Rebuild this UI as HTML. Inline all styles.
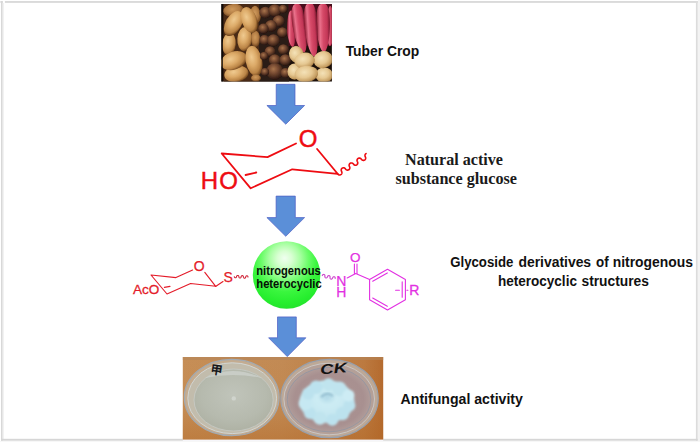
<!DOCTYPE html>
<html lang="en">
<head>
<meta charset="utf-8">
<title>Graphical abstract</title>
<style>
html,body{margin:0;padding:0;background:#fff;}
body{width:700px;height:442px;overflow:hidden;position:relative;font-family:"Liberation Sans",sans-serif;}
svg{position:absolute;left:0;top:0;display:block;}
.cal{font-family:"Liberation Sans",sans-serif;font-weight:bold;font-size:14px;fill:#111;}
.tnr{font-family:"Liberation Serif",serif;font-weight:bold;font-size:16px;fill:#1a1a1a;}
.chem{font-family:"Liberation Sans",sans-serif;}
</style>
</head>
<body>
<svg width="700" height="442" viewBox="0 0 700 442">
<defs>
<radialGradient id="ball" cx="0.48" cy="0.3" r="0.78" fx="0.47" fy="0.25">
<stop offset="0" stop-color="#f0fff0"/>
<stop offset="0.14" stop-color="#d8ffd2"/>
<stop offset="0.3" stop-color="#a6ffa0"/>
<stop offset="0.45" stop-color="#6afc68"/>
<stop offset="0.6" stop-color="#3af63e"/>
<stop offset="0.8" stop-color="#26ee2e"/>
<stop offset="1" stop-color="#22da2c"/>
</radialGradient>
</defs>
<rect x="0" y="0" width="700" height="442" fill="#ffffff"/>
<rect x="698" y="0" width="2" height="442" fill="#f3f3f3"/>
<rect x="0" y="441" width="700" height="1" fill="#f7f7f7"/>
<rect x="0" y="1" width="3" height="1.9" fill="#e6e6e6"/>
<rect x="4.9" y="1" width="692.9" height="1.9" fill="#dadada"/>
<rect x="1" y="1" width="1.7" height="439.8" fill="#d8d8d8"/>
<rect x="2.7" y="3" width="1.3" height="436" fill="#f2f2f2"/>
<rect x="695.9" y="1" width="1.8" height="439.8" fill="#dcdcdc"/>
<rect x="1" y="438.8" width="696.7" height="1.9" fill="#d6d6d6"/>

<defs>
<clipPath id="c1"><rect x="221.3" y="4" width="110.6" height="77.5"/></clipPath>
<filter id="b1" x="-5%" y="-5%" width="110%" height="110%"><feGaussianBlur stdDeviation="0.5"/></filter>
<radialGradient id="pt" cx="0.4" cy="0.36" r="0.66"><stop offset="0" stop-color="#efca90"/><stop offset="0.45" stop-color="#dcaa68"/><stop offset="0.8" stop-color="#ba8446"/><stop offset="1" stop-color="#70441c"/></radialGradient>
<radialGradient id="ptd" cx="0.45" cy="0.4" r="0.64"><stop offset="0" stop-color="#cf9a5c"/><stop offset="0.55" stop-color="#b27c44"/><stop offset="1" stop-color="#5c3414"/></radialGradient>
<radialGradient id="ptl" cx="0.42" cy="0.38" r="0.66"><stop offset="0" stop-color="#f4e2b8"/><stop offset="0.5" stop-color="#e6c892"/><stop offset="0.85" stop-color="#c49c60"/><stop offset="1" stop-color="#886030"/></radialGradient>
<radialGradient id="tr" cx="0.42" cy="0.36" r="0.64"><stop offset="0" stop-color="#a8744c"/><stop offset="0.45" stop-color="#744830"/><stop offset="1" stop-color="#2a1610"/></radialGradient>
<linearGradient id="sp" x1="0" x2="1" y1="0" y2="0"><stop offset="0" stop-color="#8a1a30"/><stop offset="0.27" stop-color="#ea728c"/><stop offset="0.5" stop-color="#d64a68"/><stop offset="0.8" stop-color="#c23656"/><stop offset="1" stop-color="#74162c"/></linearGradient>
</defs>
<g clip-path="url(#c1)">
<rect x="221" y="4" width="111" height="78" fill="#1c100a"/>
<g filter="url(#b1)">
<rect x="223.5" y="4" width="36" height="78" fill="#4a2a12"/>
<rect x="259" y="4" width="30" height="78" fill="#2a1a12"/>
<ellipse cx="233.5" cy="10.5" rx="10.3" ry="6.6" transform="rotate(-5 233.5 10.5)" fill="url(#ptd)" />
<ellipse cx="255.6" cy="14.6" rx="5.2" ry="8.8" transform="rotate(-8 255.6 14.6)" fill="url(#ptd)" />
<ellipse cx="255.5" cy="39" rx="4.6" ry="8.2" transform="rotate(0 255.5 39)" fill="url(#ptd)" />
<ellipse cx="229" cy="44" rx="6.8" ry="11.23" transform="rotate(5 229 44)" fill="url(#pt)" />
<ellipse cx="244.6" cy="39" rx="7.24" ry="12.1" transform="rotate(4 244.6 39)" fill="url(#pt)" />
<ellipse cx="233.5" cy="23.6" rx="7.99" ry="13.61" transform="rotate(30 233.5 23.6)" fill="url(#pt)" />
<ellipse cx="249.2" cy="20" rx="7.67" ry="13.39" transform="rotate(-20 249.2 20)" fill="url(#pt)" />
<ellipse cx="236.4" cy="73.8" rx="12.2" ry="8.1" transform="rotate(-10 236.4 73.8)" fill="url(#pt)" />
<ellipse cx="233.7" cy="60.6" rx="13.72" ry="8.86" transform="rotate(-20 233.7 60.6)" fill="url(#pt)" />
<ellipse cx="254" cy="61" rx="8.21" ry="15.34" transform="rotate(-11 254 61)" fill="url(#pt)" />
<ellipse cx="256" cy="78" rx="5" ry="3.6" transform="rotate(0 256 78)" fill="url(#ptd)" />
<ellipse cx="265.3" cy="12.5" rx="5.978000000000001" ry="5.782" transform="rotate(0 265.3 12.5)" fill="url(#tr)" />
<ellipse cx="274.8" cy="10.5" rx="6.465999999999999" ry="6.254" transform="rotate(0 274.8 10.5)" fill="url(#tr)" />
<ellipse cx="283" cy="9" rx="4.392" ry="4.248" transform="rotate(0 283 9)" fill="url(#tr)" />
<ellipse cx="278.6" cy="21" rx="5.978000000000001" ry="5.782" transform="rotate(0 278.6 21)" fill="url(#tr)" />
<ellipse cx="271" cy="25.8" rx="5.978000000000001" ry="5.782" transform="rotate(0 271 25.8)" fill="url(#tr)" />
<ellipse cx="263.4" cy="28.6" rx="5.2459999999999996" ry="5.074" transform="rotate(0 263.4 28.6)" fill="url(#tr)" />
<ellipse cx="282.4" cy="32.4" rx="5.368" ry="5.192" transform="rotate(0 282.4 32.4)" fill="url(#tr)" />
<ellipse cx="264.4" cy="40" rx="5.124" ry="4.9559999999999995" transform="rotate(0 264.4 40)" fill="url(#tr)" />
<ellipse cx="273.4" cy="40.5" rx="6.344" ry="6.136" transform="rotate(0 273.4 40.5)" fill="url(#tr)" />
<ellipse cx="283.4" cy="49.5" rx="5.368" ry="5.192" transform="rotate(0 283.4 49.5)" fill="url(#tr)" />
<ellipse cx="270" cy="51.4" rx="5.368" ry="5.192" transform="rotate(0 270 51.4)" fill="url(#tr)" />
<ellipse cx="264" cy="56" rx="4.148" ry="4.012" transform="rotate(0 264 56)" fill="url(#tr)" />
<ellipse cx="274.8" cy="60" rx="5.978000000000001" ry="5.782" transform="rotate(0 274.8 60)" fill="url(#tr)" />
<ellipse cx="285.3" cy="60" rx="5.856" ry="5.664" transform="rotate(0 285.3 60)" fill="url(#tr)" />
<ellipse cx="274.8" cy="71.4" rx="8.54" ry="8.26" transform="rotate(0 274.8 71.4)" fill="url(#tr)" />
<ellipse cx="285.5" cy="73" rx="5.124" ry="4.9559999999999995" transform="rotate(0 285.5 73)" fill="url(#tr)" />
<ellipse cx="265" cy="72" rx="4.148" ry="4.012" transform="rotate(0 265 72)" fill="url(#tr)" />
<rect x="288.5" y="4" width="44" height="42" fill="#4a0e1a"/>
<path transform="rotate(0 291.25 28.75)" d="M291.25,10.5 C294,10.5 295.3,16.5 295.4,28.5 C295.4,33 296.1,46 292.6,47 C289.6,46 287.3,35 287.1,32.5 C286.9,18.5 288.5,10.5 291.25,10.5 Z" fill="url(#sp)"/>
<path transform="rotate(0 330.25 26.0)" d="M330.25,6 C332,6 333.3,12 333.4,24 C333.4,32 333.5,45 330,46 C327,45 327.3,34 327.1,28 C326.9,14 328.5,6 330.25,6 Z" fill="url(#sp)"/>
<path transform="rotate(-7 299.29999999999995 28.25)" d="M299.29999999999995,3.5 C304.4,3.5 305.7,9.5 305.79999999999995,21.5 C305.79999999999995,39 304.7,52 301.2,53 C298.2,52 293.0,41 292.8,25.5 C292.59999999999997,11.5 294.2,3.5 299.29999999999995,3.5 Z" fill="url(#sp)"/>
<path transform="rotate(-1 323.20000000000005 28.0)" d="M323.20000000000005,3.5 C328.6,3.5 329.90000000000003,9.5 330.0,21.5 C330.0,38.5 326.9,51.5 323.4,52.5 C320.4,51.5 316.6,40.5 316.40000000000003,25.5 C316.2,11.5 317.8,3.5 323.20000000000005,3.5 Z" fill="url(#sp)"/>
<path transform="rotate(-4 311.2 30.0)" d="M311.2,3 C316.2,3 317.5,9 317.59999999999997,21 C317.59999999999997,43 316.1,56 312.6,57 C309.6,56 305.0,45 304.8,25 C304.59999999999997,11 306.2,3 311.2,3 Z" fill="url(#sp)"/>
<ellipse cx="294.6" cy="71.6" rx="7.13" ry="8.1" transform="rotate(0 294.6 71.6)" fill="url(#ptl)" />
<ellipse cx="296.4" cy="54.4" rx="7.34" ry="8.42" transform="rotate(-15 296.4 54.4)" fill="url(#ptl)" />
<ellipse cx="324.2" cy="75" rx="8.86" ry="7.56" transform="rotate(0 324.2 75)" fill="url(#ptl)" />
<ellipse cx="323.2" cy="59.6" rx="9.83" ry="8.53" transform="rotate(-12 323.2 59.6)" fill="url(#ptl)" />
<ellipse cx="304.6" cy="60.6" rx="10.26" ry="7.99" transform="rotate(-8 304.6 60.6)" fill="url(#ptl)" />
<ellipse cx="306.3" cy="74" rx="11.66" ry="8.21" transform="rotate(-6 306.3 74)" fill="url(#ptl)" />
</g>
<rect x="221.3" y="4" width="1.6" height="78" fill="#0c0806" opacity="0.85"/>
</g>
<defs>
<clipPath id="c2"><rect x="182.8" y="357.1" width="200.4" height="82.4"/></clipPath>
<filter id="b2" x="-5%" y="-5%" width="110%" height="110%"><feGaussianBlur stdDeviation="0.6"/></filter>
<filter id="b3" x="-20%" y="-20%" width="140%" height="140%"><feGaussianBlur stdDeviation="1.1"/></filter>
<filter id="b4" x="-40%" y="-40%" width="180%" height="180%"><feGaussianBlur stdDeviation="1.1"/></filter>
<linearGradient id="wood" x1="0" x2="1" y1="0" y2="0"><stop offset="0" stop-color="#c68e56"/><stop offset="0.5" stop-color="#c28a54"/><stop offset="0.9" stop-color="#bc7a40"/><stop offset="1" stop-color="#b46a2e"/></linearGradient>
<linearGradient id="woodv" x1="0" x2="0" y1="0" y2="1"><stop offset="0" stop-color="#b06420" stop-opacity="0"/><stop offset="0.6" stop-color="#b06420" stop-opacity="0.05"/><stop offset="1" stop-color="#b06420" stop-opacity="0.4"/></linearGradient>
<radialGradient id="agar" cx="0.5" cy="0.42" r="0.62"><stop offset="0" stop-color="#c0c4ba"/><stop offset="0.65" stop-color="#b6baae"/><stop offset="1" stop-color="#adb0a2"/></radialGradient>
<radialGradient id="dishR" cx="0.5" cy="0.5" r="0.55"><stop offset="0" stop-color="#ac9492"/><stop offset="0.75" stop-color="#a89090"/><stop offset="1" stop-color="#b4a29e"/></radialGradient>
<radialGradient id="fung" cx="0.5" cy="0.4" r="0.58"><stop offset="0" stop-color="#b0d8e6"/><stop offset="0.3" stop-color="#cdecf4"/><stop offset="0.8" stop-color="#c4e6f0"/><stop offset="1" stop-color="#b8dce8"/></radialGradient>
</defs>
<rect x="182.8" y="438.5" width="200.4" height="2.5" fill="#f6f6fa"/>
<g clip-path="url(#c2)">
<rect x="182" y="357" width="202" height="83" fill="url(#wood)"/>
<rect x="182" y="357" width="202" height="3" fill="#b4865a" opacity="0.6"/>
<rect x="182" y="357" width="202" height="83" fill="url(#woodv)"/>
<g filter="url(#b2)">
<!-- left dish -->
<ellipse cx="231.7" cy="397.5" rx="47.4" ry="38.2" fill="#c4ac90" stroke="#a2aab2" stroke-width="1.2"/>
<ellipse cx="232.2" cy="398.2" rx="44.4" ry="35.4" fill="#c2bcac" stroke="#d2d6d4" stroke-width="1"/>
<ellipse cx="233.6" cy="400" rx="39.6" ry="31" fill="url(#agar)" stroke="#c8ccc6" stroke-width="0.8"/>
<path d="M205,378 Q232,364 262,378 Q232,372 205,378 Z" fill="#d0d4d0" opacity="0.7"/>
<circle cx="233.8" cy="398.4" r="2.2" fill="#d0d4cd"/>
<!-- right dish -->
<ellipse cx="329.5" cy="398.5" rx="48.7" ry="39.2" fill="#bda896" stroke="#98a0ac" stroke-width="1.2"/>
<ellipse cx="329.2" cy="399" rx="45.3" ry="35.8" fill="#b4a098" stroke="#cac6c4" stroke-width="1"/>
<ellipse cx="329" cy="399.6" rx="41.8" ry="32.2" fill="url(#dishR)" stroke="#8c94a4" stroke-width="0.7"/>
</g>
<g filter="url(#b3)">
<ellipse cx="327" cy="401.6" rx="27.5" ry="21.4" fill="url(#fung)"/>
<circle cx="349.4" cy="405.5" r="6.0" fill="#bce2ee"/>
<circle cx="342.4" cy="413.5" r="6.8" fill="#bce2ee"/>
<circle cx="332.3" cy="419.8" r="6.0" fill="#bce2ee"/>
<circle cx="319.9" cy="418.1" r="6.6" fill="#c0e4ee"/>
<circle cx="309.9" cy="413.1" r="6.0" fill="#bce2ee"/>
<circle cx="305.6" cy="403.4" r="7.0" fill="#c6e8f2"/>
<circle cx="308.2" cy="393.6" r="6.1" fill="#bce2ee"/>
<circle cx="316.2" cy="387.2" r="6.7" fill="#bce2ee"/>
<circle cx="328.6" cy="384.6" r="6.3" fill="#c0e4ee"/>
<circle cx="339.4" cy="388.9" r="7.3" fill="#c0e4ee"/>
<circle cx="348.5" cy="395.5" r="6.0" fill="#cdecf4"/>
</g>
<path d="M321,397 Q327,391 333,396" fill="none" stroke="#7aa8be" stroke-width="2" filter="url(#b4)" opacity="0.7"/>
<text x="210.6" y="374.4" font-family="'Liberation Sans','Noto Sans CJK SC',sans-serif" font-size="12" font-weight="bold" fill="#16181c" transform="rotate(8 216 369)">甲</text>
<text x="320" y="373.4" font-family="'Liberation Sans',sans-serif" font-size="14" font-style="italic" font-weight="bold" fill="#121212" textLength="27" lengthAdjust="spacingAndGlyphs" transform="rotate(-5 333 368)">CK</text>
</g>
<path d="M276.2,84.3 H295 V105.5 H304.6 L285.75,124.2 L266.9,105.5 H276.2 Z" fill="#5b8fd8" stroke="#4c5cc4" stroke-width="0.7" stroke-linejoin="miter"/>
<path d="M276.1,196.1 H295.3 V217.6 H304.6 L285.75,236.3 L266.9,217.6 H276.1 Z" fill="#5b8fd8" stroke="#4c5cc4" stroke-width="0.7" stroke-linejoin="miter"/>
<path d="M277.5,316.9 H296.3 V337.8 H305.9 L287.25,356.6 L268.6,337.8 H277.5 Z" fill="#5b8fd8" stroke="#4c5cc4" stroke-width="0.7" stroke-linejoin="miter"/>
<g fill="none" stroke="#ee0c12" stroke-width="1.8" stroke-linecap="round" stroke-linejoin="round">
<path d="M296,143.5 L267.5,157.1 L221.7,153.5 L250.7,188.3 L292.3,169.3 L337.6,173.8 L317.1,149"/>
<path d="M245.6,175 L256.3,172.5"/>
<path d="M337.60,173.80 L337.88,174.18 L338.23,174.49 L338.63,174.73 L339.07,174.89 L339.52,174.96 L339.98,174.94 L340.42,174.83 L340.83,174.63 L341.20,174.36 L341.50,174.01 L341.72,173.61 L341.87,173.18 L341.92,172.71 L341.89,172.25 L341.77,171.80 L341.56,171.37 L341.35,170.95 L341.23,170.50 L341.20,170.03 L341.25,169.57 L341.40,169.13 L341.62,168.73 L341.92,168.39 L342.29,168.11 L342.70,167.92 L343.14,167.81 L343.60,167.78 L344.05,167.86 L344.49,168.01 L344.89,168.26 L345.24,168.57 L345.52,168.95 L345.80,169.32 L346.15,169.64 L346.55,169.88 L346.99,170.04 L347.44,170.11 L347.90,170.09 L348.34,169.98 L348.75,169.78 L349.12,169.50 L349.42,169.16 L349.64,168.76 L349.79,168.32 L349.84,167.86 L349.81,167.40 L349.69,166.94 L349.48,166.52 L349.27,166.10 L349.15,165.64 L349.12,165.18 L349.17,164.72 L349.32,164.28 L349.54,163.88 L349.84,163.54 L350.21,163.26 L350.62,163.06 L351.06,162.95 L351.52,162.93 L351.97,163.00 L352.41,163.16 L352.81,163.40 L353.16,163.72 L353.44,164.09 L353.72,164.47 L354.07,164.78 L354.47,165.03 L354.91,165.18 L355.36,165.26 L355.82,165.23 L356.26,165.12 L356.67,164.93 L357.04,164.65 L357.34,164.31 L357.56,163.91 L357.71,163.47 L357.76,163.01 L357.73,162.54 L357.61,162.09 L357.40,161.67 L357.19,161.24 L357.07,160.79 L357.04,160.33 L357.09,159.86 L357.24,159.43 L357.46,159.03 L357.76,158.68 L358.13,158.41 L358.54,158.21 L358.98,158.10 L359.44,158.08 L359.89,158.15 L360.33,158.31 L360.73,158.55 L361.08,158.86 L361.36,159.24 L361.64,159.62 L361.99,159.93 L362.39,160.17 L362.83,160.33 L363.28,160.40 L363.74,160.38 L364.18,160.27 L364.59,160.07 L364.96,159.80 L365.26,159.45 L365.48,159.05 L365.63,158.62 L365.68,158.15 L365.65,157.69 L365.53,157.24 L365.32,156.81 L365.11,156.39 L364.99,155.94 L364.96,155.47 L365.01,155.01 L365.16,154.57 L365.38,154.17 L365.68,153.83 L366.05,153.55" stroke-width="1.6"/>
</g>
<text class="chem" x="200.7" y="189.3" font-size="24" fill="#ee0c12" stroke="#ee0c12" stroke-width="0.45">H<tspan dx="1.2">O</tspan></text>
<text class="chem" x="308.2" y="147.2" font-size="24" fill="#ee0c12" stroke="#ee0c12" stroke-width="0.45" text-anchor="middle">O</text>
<g fill="none" stroke="#e41c2a" stroke-width="1.15" stroke-linecap="round" stroke-linejoin="round">
<path d="M192.6,270 L176,277.6 L151,275 L167,294 L190.6,283.5 L215.7,286.3 L204.8,272.4"/>
<path d="M215.6,286.4 L223,281.6"/>
<path d="M164.4,287.4 L170,286.4"/>
<path d="M234.30,276.50 L234.31,276.74 L234.37,276.98 L234.46,277.20 L234.60,277.40 L234.76,277.56 L234.95,277.68 L235.17,277.77 L235.39,277.80 L235.61,277.78 L235.83,277.72 L236.03,277.62 L236.21,277.47 L236.36,277.29 L236.48,277.07 L236.55,276.84 L236.58,276.60 L236.62,276.36 L236.69,276.13 L236.81,275.91 L236.96,275.73 L237.14,275.58 L237.34,275.48 L237.56,275.42 L237.78,275.40 L238.00,275.43 L238.21,275.52 L238.40,275.64 L238.57,275.80 L238.70,276.00 L238.80,276.22 L238.86,276.46 L238.87,276.70 L238.88,276.94 L238.93,277.18 L239.03,277.40 L239.16,277.60 L239.33,277.76 L239.52,277.88 L239.73,277.97 L239.95,278.00 L240.18,277.98 L240.39,277.92 L240.60,277.82 L240.78,277.67 L240.93,277.49 L241.04,277.27 L241.12,277.04 L241.15,276.80 L241.18,276.56 L241.26,276.33 L241.37,276.11 L241.52,275.93 L241.70,275.78 L241.91,275.68 L242.12,275.62 L242.35,275.60 L242.57,275.63 L242.78,275.72 L242.97,275.84 L243.14,276.00 L243.27,276.20 L243.37,276.42 L243.42,276.66 L243.43,276.90 L243.44,277.14 L243.50,277.38 L243.60,277.60 L243.73,277.80 L243.90,277.96 L244.09,278.08 L244.30,278.17 L244.52,278.20 L244.74,278.18 L244.96,278.12 L245.16,278.02 L245.34,277.87 L245.49,277.69 L245.61,277.47 L245.68,277.24 L245.72,277.00 L245.75,276.76 L245.82,276.53 L245.94,276.31 L246.09,276.13 L246.27,275.98 L246.47,275.88 L246.69,275.82 L246.91,275.80 L247.13,275.83 L247.35,275.92 L247.54,276.04 L247.70,276.20 L247.84,276.40 L247.93,276.62 L247.99,276.86 L248.00,277.10" stroke-width="1.05" stroke="#d02438"/>
</g>
<text class="chem" x="132.9" y="294.4" font-size="13.6" fill="#e41c2a" stroke="#e41c2a" stroke-width="0.3">AcO</text>
<text class="chem" x="199.1" y="271.2" font-size="14" fill="#e41c2a" stroke="#e41c2a" stroke-width="0.25" text-anchor="middle">O</text>
<text class="chem" x="228.1" y="281.8" font-size="14" fill="#e41c2a" stroke="#e41c2a" stroke-width="0.25" text-anchor="middle">S</text>
<circle cx="286.6" cy="275" r="33.8" fill="url(#ball)"/>
<text class="chem" x="256.3" y="274.7" font-size="12.6" font-weight="bold" fill="#061006" textLength="64.4" lengthAdjust="spacingAndGlyphs">nitrogenous</text>
<text class="chem" x="256.3" y="288.3" font-size="12.6" font-weight="bold" fill="#061006" textLength="65.4" lengthAdjust="spacingAndGlyphs">heterocyclic</text>
<g fill="none" stroke="#e230e2" stroke-width="1.1" stroke-linecap="round" stroke-linejoin="round">
<path d="M322.30,275.60 L322.39,275.32 L322.52,275.06 L322.70,274.84 L322.91,274.65 L323.15,274.51 L323.40,274.43 L323.66,274.40 L323.92,274.43 L324.16,274.51 L324.39,274.65 L324.58,274.83 L324.73,275.06 L324.85,275.32 L324.91,275.60 L324.92,275.89 L324.88,276.18 L324.84,276.47 L324.85,276.76 L324.91,277.04 L325.03,277.30 L325.18,277.53 L325.37,277.71 L325.60,277.85 L325.84,277.93 L326.10,277.96 L326.36,277.93 L326.61,277.85 L326.85,277.71 L327.06,277.52 L327.24,277.30 L327.37,277.04 L327.46,276.76 L327.55,276.48 L327.68,276.22 L327.86,276.00 L328.07,275.81 L328.31,275.67 L328.56,275.59 L328.82,275.56 L329.08,275.59 L329.32,275.67 L329.55,275.81 L329.74,275.99 L329.89,276.22 L330.01,276.48 L330.07,276.76 L330.08,277.05 L330.04,277.34 L330.00,277.63 L330.01,277.92 L330.07,278.20 L330.19,278.46 L330.34,278.69 L330.53,278.87 L330.76,279.01 L331.00,279.09 L331.26,279.12 L331.52,279.09 L331.77,279.01 L332.01,278.87 L332.22,278.68 L332.40,278.46 L332.53,278.20 L332.62,277.92 L332.71,277.64 L332.84,277.38 L333.02,277.16 L333.23,276.97 L333.47,276.83 L333.72,276.75 L333.98,276.72 L334.24,276.75 L334.48,276.83 L334.71,276.97 L334.90,277.15 L335.05,277.38 L335.17,277.64 L335.23,277.92 L335.24,278.21 L335.20,278.50" stroke-width="1.1" stroke="#cc44cc"/>
<path d="M347.2,278 L355.7,273.4 L369.6,279.4"/>
<path d="M354.4,273.4 V264 M357,273.4 V264"/>
<path d="M369.6,279.4 L387.5,269.2 L405.4,279.4 L405.4,299.8 L387.5,310 L369.6,299.8 Z"/>
<path d="M372.7,281.2 L387.3,272.9 M402.2,281.9 V297.3 M387.3,306.3 L372.7,298"/>
<path d="M395.6,290.3 H399.4 M406.9,290.3 H407.9"/>
</g>
<text class="chem" x="341.2" y="285.8" font-size="14" fill="#e230e2" stroke="#e230e2" stroke-width="0.25" text-anchor="middle">N</text>
<text class="chem" x="341.2" y="297" font-size="14" fill="#e230e2" stroke="#e230e2" stroke-width="0.25" text-anchor="middle">H</text>
<text class="chem" x="355.2" y="261.8" font-size="13.5" fill="#e230e2" stroke="#e230e2" stroke-width="0.25" text-anchor="middle">O</text>
<text class="chem" x="409.3" y="295.4" font-size="14" fill="#e230e2" stroke="#e230e2" stroke-width="0.3">R</text>
<text class="cal" x="345.7" y="55.5" textLength="73.6" lengthAdjust="spacingAndGlyphs">Tuber Crop</text>
<text class="tnr" x="405" y="164.6" textLength="98" lengthAdjust="spacingAndGlyphs">Natural active</text>
<text class="tnr" x="395.4" y="183.8" textLength="121.6" lengthAdjust="spacingAndGlyphs">substance glucose</text>
<text class="cal" y="266.7"><tspan x="450.2" textLength="66.8" lengthAdjust="spacingAndGlyphs">Glycoside </tspan><tspan x="518.4" textLength="76.6" lengthAdjust="spacingAndGlyphs">derivatives </tspan><tspan x="596" textLength="16.3" lengthAdjust="spacingAndGlyphs">of </tspan><tspan x="612.7" textLength="80.2" lengthAdjust="spacingAndGlyphs">nitrogenous</tspan></text>
<text class="cal" y="285.9"><tspan x="497.9" textLength="82.8" lengthAdjust="spacingAndGlyphs">heterocyclic </tspan><tspan x="581.5" textLength="67.4" lengthAdjust="spacingAndGlyphs">structures</tspan></text>
<text class="cal" x="400.6" y="403.8" textLength="122.3" lengthAdjust="spacingAndGlyphs">Antifungal activity</text>
</svg>
</body>
</html>
